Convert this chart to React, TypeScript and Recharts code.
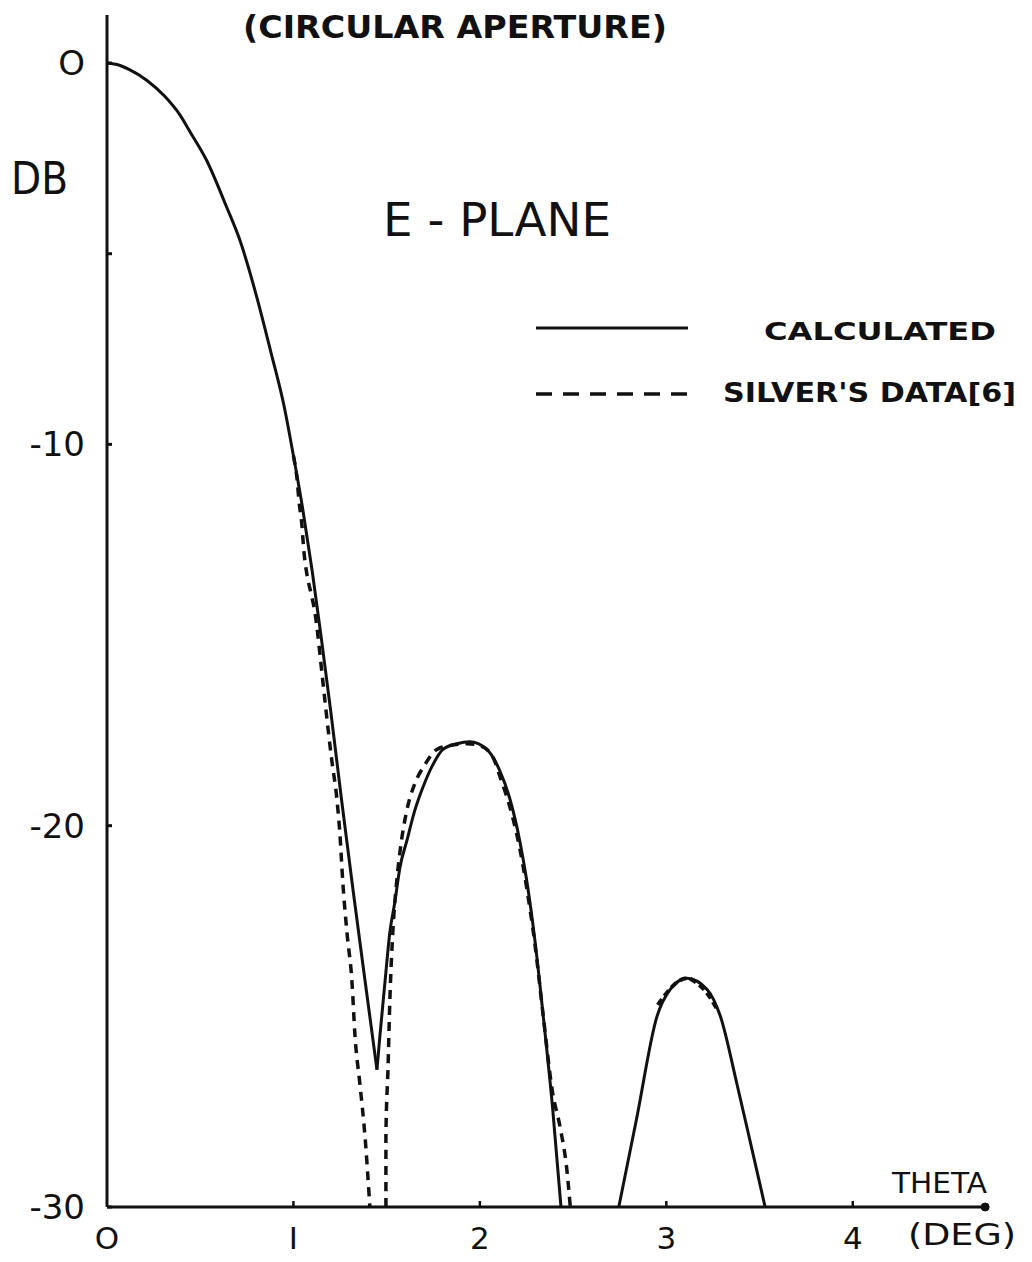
import React from 'react';
import { LineChart, Line, XAxis, YAxis, ReferenceDot } from 'recharts';

// ---- axis ticks ----
const xTicks = [0, 1, 2, 3, 4];
const yTicks = [-30, -20, -10, 0];
const yMinorTicks = [-5];

// ---- CALCULATED (solid) ----
const calcLobe1Theta = [0, 0.052, 0.123, 0.213, 0.311, 0.391, 0.445, 0.534, 0.641, 0.713, 0.803, 0.88, 0.95, 1.0, 1.05, 1.1, 1.15, 1.2, 1.26, 1.32, 1.385, 1.448];
const calcLobe1Db = [0, -0.04, -0.18, -0.45, -0.88, -1.36, -1.8, -2.55, -3.77, -4.65, -6.13, -7.6, -9.0, -10.3, -11.7, -13.3, -15.1, -17.0, -19.4, -21.7, -24.1, -26.4];

const calcLobe2Theta = [1.448, 1.464, 1.491, 1.517, 1.544, 1.571, 1.608, 1.651, 1.694, 1.748, 1.802, 1.877, 1.946, 2.037, 2.107, 2.161, 2.214, 2.25, 2.295, 2.34, 2.39, 2.435];
const calcLobe2Db = [-26.4, -25.5, -24.1, -22.8, -22.0, -21.1, -20.4, -19.6, -19.0, -18.4, -18.0, -17.85, -17.8, -18.0, -18.56, -19.3, -20.4, -21.4, -23.0, -25.0, -27.4, -30];

const calcLobe3Theta = [2.745, 2.84, 2.95, 3.02, 3.11, 3.22, 3.29, 3.38, 3.46, 3.53];
const calcLobe3Db = [-30, -27.7, -25.0, -24.3, -24.0, -24.3, -25.0, -26.8, -28.5, -30];

// ---- SILVER'S DATA [6] (dashed) ----
const silverA_Theta = [1.0, 1.019, 1.03, 1.045, 1.056, 1.072, 1.094, 1.115, 1.131, 1.142, 1.206, 1.233, 1.249, 1.265, 1.287, 1.314, 1.33, 1.357, 1.383, 1.41];
const silverA_Db = [-10.3, -10.9, -11.5, -12.1, -12.8, -13.4, -13.9, -14.4, -15.0, -15.5, -18.3, -19.3, -20.2, -21.5, -22.8, -24.1, -25.5, -26.8, -28.1, -30];

const silverB_Theta = [1.496, 1.496, 1.507, 1.517, 1.533, 1.555, 1.571, 1.608, 1.651, 1.705, 1.769, 1.839, 1.93, 2.0, 2.07, 2.107, 2.177, 2.214, 2.25, 2.295, 2.34, 2.39, 2.43, 2.466, 2.485];
const silverB_Db = [-30, -28.1, -26.4, -24.6, -22.8, -21.4, -20.7, -19.6, -18.9, -18.4, -18.0, -17.9, -17.85, -17.9, -18.2, -18.7, -19.8, -20.6, -21.6, -23.1, -25.0, -27.0, -27.9, -29.0, -30];

const silverC_Theta = [2.954, 3.0, 3.046, 3.11, 3.17, 3.22, 3.276];
const silverC_Db = [-24.7, -24.4, -24.15, -24.0, -24.15, -24.4, -24.85];

const legendNames = ['CALCULATED', "SILVER'S DATA[6]"];

const toRows = (t: number[], d: number[]) => t.map((theta, i) => ({ theta, db: d[i] }));

const calc1 = toRows(calcLobe1Theta, calcLobe1Db);
const calc2 = toRows(calcLobe2Theta, calcLobe2Db);
const calc3 = toRows(calcLobe3Theta, calcLobe3Db);
const silverA = toRows(silverA_Theta, silverA_Db);
const silverB = toRows(silverB_Theta, silverB_Db);
const silverC = toRows(silverC_Theta, silverC_Db);

const FONT = '"DejaVu Sans", "Liberation Sans", sans-serif';
const INK = '#111';

const YTick = (props: any) => {
  const { x, y, payload } = props;
  const v = payload.value;
  const isMajor = yTicks.includes(v);
  return (
    <g>
      <line x1={x} y1={y} x2={x + 5} y2={y} stroke={INK} strokeWidth={3} />
      {isMajor && (
        <text x={x - 22} y={y + 12} textAnchor="end" fontFamily={FONT} fontSize={34} fill={INK}>
          {v === 0 ? 'O' : String(v)}
        </text>
      )}
    </g>
  );
};

const XTick = (props: any) => {
  const { x, y, payload } = props;
  const v = payload.value;
  return (
    <g>
      {v !== 0 && <line x1={x} y1={y} x2={x} y2={y - 6} stroke={INK} strokeWidth={2.5} />}
      <text x={x} y={y + 42} textAnchor="middle" fontFamily={FONT} fontSize={31} fill={INK}>
        {v === 0 ? 'O' : v === 1 ? 'I' : String(v)}
      </text>
    </g>
  );
};

export default function App() {
  const ySorted = [...yTicks, ...yMinorTicks].sort((a, b) => a - b);
  return (
    <div style={{ position: 'absolute', left: 0, top: 0, width: 1032, height: 1262, background: '#fff' }}>
      <LineChart width={1032} height={1262} margin={{ top: 15, right: 45, bottom: 5, left: 27 }}>
        <XAxis
          type="number"
          dataKey="theta"
          domain={[0, 4.72]}
          ticks={xTicks}
          interval={0}
          allowDataOverflow
          height={50}
          tickLine={false}
          tickSize={0}
          tickMargin={0}
          tick={<XTick />}
          axisLine={{ stroke: INK, strokeWidth: 3 }}
        />
        <YAxis
          type="number"
          domain={[-30, 1.26]}
          ticks={ySorted}
          interval={0}
          allowDataOverflow
          width={80}
          tickLine={false}
          tickSize={0}
          tickMargin={0}
          tick={<YTick />}
          axisLine={{ stroke: INK, strokeWidth: 3 }}
        />
        <Line data={calc1} dataKey="db" type="monotone" stroke={INK} strokeWidth={3} dot={false} isAnimationActive={false} legendType="none" />
        <Line data={calc2} dataKey="db" type="monotone" stroke={INK} strokeWidth={3} dot={false} isAnimationActive={false} legendType="none" />
        <Line data={calc3} dataKey="db" type="monotone" stroke={INK} strokeWidth={3} dot={false} isAnimationActive={false} legendType="none" />
        <Line data={silverA} dataKey="db" type="monotone" stroke={INK} strokeWidth={3.5} strokeDasharray="9 7" dot={false} isAnimationActive={false} legendType="none" />
        <Line data={silverB} dataKey="db" type="monotone" stroke={INK} strokeWidth={3.5} strokeDasharray="9 7" dot={false} isAnimationActive={false} legendType="none" />
        <Line data={silverC} dataKey="db" type="monotone" stroke={INK} strokeWidth={4} strokeDasharray="7 4" dot={false} isAnimationActive={false} legendType="none" />
        <ReferenceDot x={4.71} y={-30} r={4} fill={INK} stroke={INK} ifOverflow="visible" />
      </LineChart>
      <svg width={1032} height={1262} style={{ position: 'absolute', left: 0, top: 0, pointerEvents: 'none' }}>
        <text x={243} y={38} fontFamily={FONT} fontWeight="bold" fontSize={32} fill={INK} textLength={424} lengthAdjust="spacingAndGlyphs">
          (CIRCULAR  APERTURE)
        </text>
        <text x={11} y={194} fontFamily={FONT} fontSize={45} fill={INK} textLength={57} lengthAdjust="spacingAndGlyphs">
          DB
        </text>
        <text x={383} y={236} fontFamily={FONT} fontSize={46} fill={INK} textLength={228} lengthAdjust="spacingAndGlyphs">
          E - PLANE
        </text>
        {/* legend */}
        <line x1={536} y1={328} x2={688} y2={328} stroke={INK} strokeWidth={3} />
        <text x={764} y={340} fontFamily={FONT} fontWeight="bold" fontSize={25} fill={INK} textLength={232} lengthAdjust="spacingAndGlyphs">
          {legendNames[0]}
        </text>
        <line x1={536} y1={394} x2={688} y2={394} stroke={INK} strokeWidth={3.5} strokeDasharray="16 11" />
        <text x={723} y={402} fontFamily={FONT} fontWeight="bold" fontSize={27} fill={INK} textLength={293} lengthAdjust="spacingAndGlyphs">
          {legendNames[1]}
        </text>
        <text x={892} y={1193} fontFamily={FONT} fontSize={28} fill={INK} textLength={95} lengthAdjust="spacingAndGlyphs">
          THETA
        </text>
        <text x={908} y={1245} fontFamily={FONT} fontSize={30} fill={INK} textLength={108} lengthAdjust="spacingAndGlyphs">
          (DEG)
        </text>
      </svg>
    </div>
  );
}
